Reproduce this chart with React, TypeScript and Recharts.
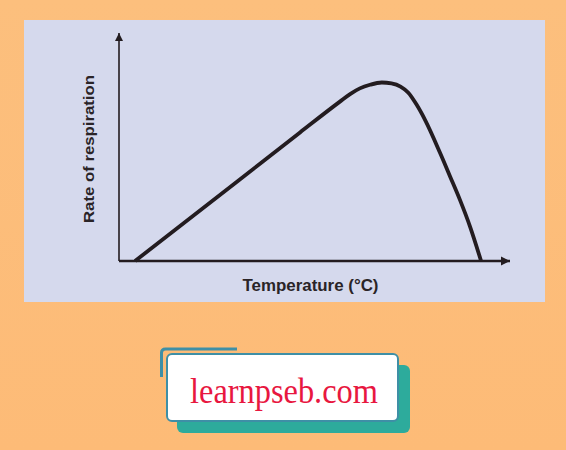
import { LineChart, Line, XAxis, YAxis, ReferenceDot, Label } from 'recharts';

// temperature (relative units) vs rate of respiration (relative units)
const temperature = [4.1, 30, 46.3, 56.5, 59.1, 61.6, 64.2, 67.2, 69.7, 72.0, 74.0, 76.1, 78.3, 82.1, 84.7, 87.2, 89.8, 92.6];
const rate = [0, 34.5, 56.4, 69.9, 73.2, 75.7, 77.3, 78.3, 77.9, 76.5, 73.8, 68.6, 61.8, 47.5, 37.0, 26.8, 15.0, 0];

const xLabel = 'Temperature (°C)';
const yLabel = 'Rate of respiration';
const siteName = 'learnpseb.com';

const data = temperature.map((t, i) => ({ t, r: rate[i] }));

const ink = '#231c20';

const XArrow = ({ cx, cy }: any) => (
  <polygon points={`${cx},${cy} ${cx - 9},${cy - 4.5} ${cx - 9},${cy + 4.5}`} fill={ink} />
);

const YArrow = ({ cx, cy }: any) => (
  <polygon points={`${cx},${cy} ${cx - 4},${cy + 8} ${cx + 4},${cy + 8}`} fill={ink} />
);

const XTitle = ({ viewBox }: any) => {
  const x = viewBox.x + viewBox.width / 2 - 4;
  const y = viewBox.y + 24;
  return (
    <text x={x} y={y} textAnchor="middle" dominantBaseline="central" fill="#2a2427"
      fontFamily="'Liberation Sans', Arial, sans-serif" fontWeight="bold" fontSize={16}
      textLength={136} lengthAdjust="spacingAndGlyphs">
      {xLabel}
    </text>
  );
};

const YTitle = ({ viewBox }: any) => {
  const x = viewBox.x + viewBox.width - 31;
  const y = viewBox.y + viewBox.height / 2 + 2;
  return (
    <text x={x} y={y} transform={`rotate(-90 ${x} ${y})`} textAnchor="middle" dominantBaseline="central"
      fill="#2a2427" fontFamily="'Liberation Sans', Arial, sans-serif" fontWeight="bold" fontSize={15}
      textLength={148} lengthAdjust="spacingAndGlyphs">
      {yLabel}
    </text>
  );
};

export default function App() {
  return (
    <div style={{ position: 'absolute', left: 0, top: 0, width: 566, height: 450,
      background: 'linear-gradient(#fcbf7d, #fdbb77)', overflow: 'hidden' }}>
      <div style={{ position: 'absolute', left: 24, top: 20, width: 521, height: 282, background: '#d5d9ed' }} />
      <div style={{ position: 'absolute', left: 0, top: 0 }}>
        <LineChart width={566} height={450} data={data}
          margin={{ top: 33, right: 56, left: 118, bottom: 188 }}>
          <XAxis type="number" dataKey="t" domain={[0, 100]} height={1} tick={false} tickLine={false}
            axisLine={{ stroke: ink, strokeWidth: 2.5 }}>
            <Label content={<XTitle />} />
          </XAxis>
          <YAxis type="number" domain={[0, 100]} width={1} tick={false} tickLine={false}
            axisLine={{ stroke: ink, strokeWidth: 1.6 }}>
            <Label content={<YTitle />} />
          </YAxis>
          <Line type="monotone" dataKey="r" stroke={ink} strokeWidth={3.8} dot={false}
            isAnimationActive={false} strokeLinejoin="round" />
          <ReferenceDot x={100} y={0} ifOverflow="visible" shape={<XArrow />} />
          <ReferenceDot x={0} y={100} ifOverflow="visible" shape={<YArrow />} />
        </LineChart>
      </div>
      <svg width={566} height={450} style={{ position: 'absolute', left: 0, top: 0 }}>
        <rect x={177} y={365} width={233} height={68} rx={6} fill="#2dab9c" />
        <rect x={167} y={354} width={231} height={67} rx={5} fill="#ffffff" stroke="#3e8fa6" strokeWidth={2} />
        <path d="M161.5 377 V353 Q161.5 349 165.5 349 H237" fill="none" stroke="#3e8fa6" strokeWidth={3} />
        <text x={190} y={403} fill="#e8173f" fontFamily="'Liberation Serif', 'Times New Roman', serif"
          fontSize={35} textLength={188} lengthAdjust="spacingAndGlyphs">
          {siteName}
        </text>
      </svg>
    </div>
  );
}
